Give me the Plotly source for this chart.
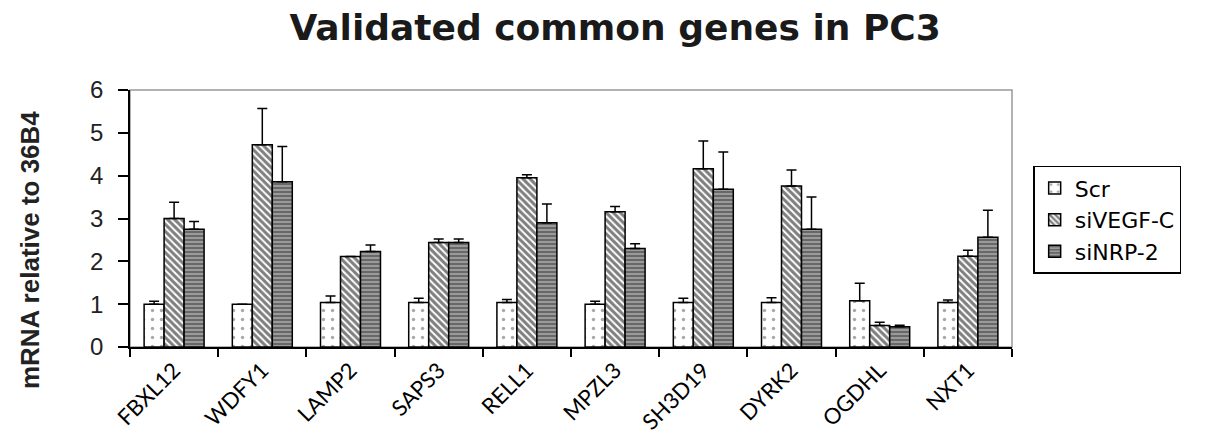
import plotly.graph_objects as go

genes = ["FBXL12", "WDFY1", "LAMP2", "SAPS3", "RELL1", "MPZL3", "SH3D19", "DYRK2", "OGDHL", "NXT1"]
scr = [1.0, 1.0, 1.04, 1.04, 1.04, 1.0, 1.04, 1.04, 1.08, 1.04]
scr_err = [0.07, 0.0, 0.15, 0.10, 0.07, 0.07, 0.10, 0.11, 0.41, 0.06]
sivegf = [3.0, 4.72, 2.11, 2.44, 3.95, 3.16, 4.16, 3.76, 0.50, 2.12]
sivegf_err = [0.38, 0.85, 0.0, 0.08, 0.07, 0.12, 0.65, 0.37, 0.08, 0.14]
sinrp = [2.75, 3.86, 2.23, 2.44, 2.90, 2.30, 3.68, 2.75, 0.47, 2.56]
sinrp_err = [0.18, 0.82, 0.15, 0.08, 0.44, 0.11, 0.87, 0.75, 0.04, 0.63]

series = [
    ("Scr", scr, scr_err, dict(shape=".", fgcolor="#555555", bgcolor="white", size=9, solidity=0.12)),
    ("siVEGF-C", sivegf, sivegf_err, dict(shape="\\", fgcolor="#000000", bgcolor="white", size=5, solidity=0.6)),
    ("siNRP-2", sinrp, sinrp_err, dict(shape="-", fgcolor="#2a2a2a", bgcolor="#9a9a9a", size=4, solidity=0.45)),
]

fig = go.Figure()
for name, vals, errs, pat in series:
    fig.add_trace(go.Bar(
        x=genes, y=vals, name=name,
        marker=dict(color="white", line=dict(color="black", width=1.5), pattern=pat),
        error_y=dict(type="data", array=errs, arrayminus=[0] * len(errs), symmetric=False,
                     color="black", thickness=1.5, width=5),
    ))

# page has an 8px body margin: figure is 1203x428 drawn at (8, 8)
fig.update_layout(
    width=1203, height=428,
    margin=dict(l=122, r=199, t=82, b=89),
    paper_bgcolor="white", plot_bgcolor="white",
    barmode="group", bargap=0.32, bargroupgap=0,
    title=dict(text="<b>Validated common genes in PC3</b>", x=0.55, xref="paper", xanchor="center",
               y=0.955, yref="container", yanchor="middle",
               font=dict(family="DejaVu Sans", size=36, color="#1a1a1a")),
    legend=dict(x=1.024, y=0.705, xanchor="left", yanchor="top",
                bordercolor="black", borderwidth=1.5, bgcolor="white",
                font=dict(family="DejaVu Sans", size=22, color="black"),
                tracegroupgap=0, entrywidth=160, entrywidthmode="pixels"),
    shapes=[dict(type="rect", xref="paper", yref="paper", x0=0, y0=0, x1=1, y1=1,
                 line=dict(color="#999999", width=1.5), layer="below")],
    annotations=[dict(text="<b>mRNA relative to 36B4</b>", textangle=-90, showarrow=False,
                      xref="paper", yref="paper", x=-0.1134, y=0.377,
                      xanchor="center", yanchor="middle",
                      font=dict(family="Liberation Sans, Arial", size=26, color="#222222"))],
)
fig.update_yaxes(range=[0, 6], dtick=1, ticks="outside", ticklen=10, tickwidth=1.5, tickcolor="black",
                 showline=True, linecolor="black", linewidth=1.5, showgrid=False, zeroline=False,
                 automargin=False, ticklabelstandoff=10,
                 tickfont=dict(family="Liberation Sans, Arial", size=24, color="#222222"))
fig.update_xaxes(tickson="boundaries", ticks="outside", ticklen=8, tickwidth=1.5, tickcolor="black",
                 showline=True, linecolor="black", linewidth=1.5, showgrid=False, automargin=False,
                 tickangle=-45, tickfont=dict(family="Lato, Noto Sans", size=22, color="black"))

fig.write_html("out.html")
